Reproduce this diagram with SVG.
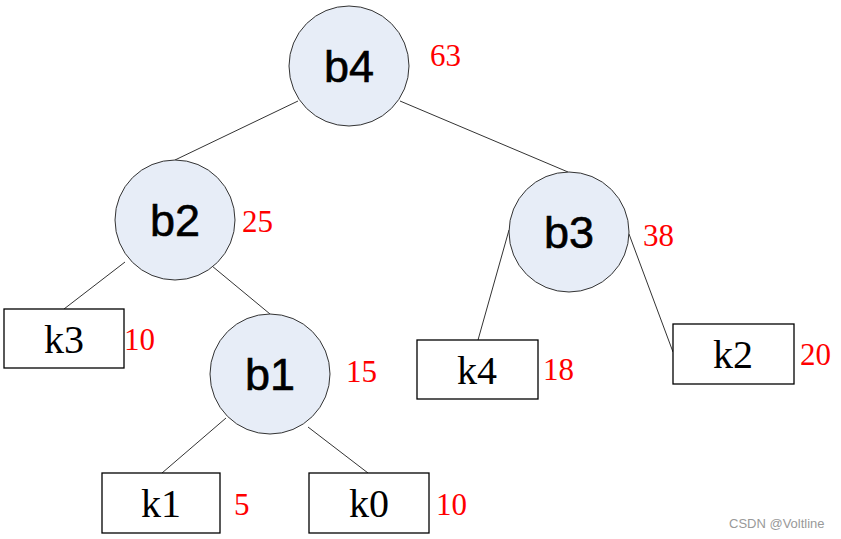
<svg xmlns="http://www.w3.org/2000/svg" width="841" height="539" viewBox="0 0 841 539">
<style>
.c{fill:#e7edf7;stroke:#333;stroke-width:1}
.b{fill:#fff;stroke:#000;stroke-width:1.3}
.e{stroke:#333;stroke-width:1;fill:none}
.nl{font-family:"Liberation Sans",Arial,sans-serif;font-size:45px;fill:#000;text-anchor:middle;stroke:#000;stroke-width:0.6}
.kl{font-family:"Liberation Serif","Times New Roman",serif;font-size:40px;fill:#000;text-anchor:middle}
.w{font-family:"Liberation Serif","Times New Roman",serif;font-size:31px;fill:#ff0000}
.wm{font-family:"Liberation Sans",Arial,sans-serif;font-size:13px;fill:#999}
</style>
<rect width="841" height="539" fill="#fff"/>
<g id="connectors">
<line class="e" x1="298" y1="101" x2="175" y2="160"/>
<line class="e" x1="400" y1="101" x2="568" y2="172"/>
<line class="e" x1="125" y1="262" x2="64" y2="309"/>
<line class="e" x1="212" y1="266" x2="270" y2="314"/>
<line class="e" x1="509" y1="230" x2="478" y2="340"/>
<line class="e" x1="629" y1="234" x2="673" y2="352"/>
<line class="e" x1="226" y1="418" x2="162" y2="473"/>
<line class="e" x1="308" y1="427" x2="368" y2="473"/>
</g>
<g id="b4"><circle class="c" cx="349" cy="66" r="60"/><text class="nl" x="349" y="82">b4</text><text class="w" x="430" y="66">63</text></g>
<g id="b2"><circle class="c" cx="175" cy="220" r="60"/><text class="nl" x="175" y="236">b2</text><text class="w" x="242" y="232">25</text></g>
<g id="b3"><circle class="c" cx="569" cy="232" r="60"/><text class="nl" x="569" y="248">b3</text><text class="w" x="643" y="246">38</text></g>
<g id="b1"><circle class="c" cx="270" cy="374" r="60"/><text class="nl" x="270" y="390">b1</text><text class="w" x="346" y="382">15</text></g>
<g id="k3"><rect class="b" x="4" y="309" width="120" height="59"/><text class="kl" x="64" y="353">k3</text><text class="w" x="124" y="350">10</text></g>
<g id="k1"><rect class="b" x="102" y="473" width="118" height="60"/><text class="kl" x="161" y="517">k1</text><text class="w" x="234" y="515">5</text></g>
<g id="k0"><rect class="b" x="309" y="473" width="120" height="60"/><text class="kl" x="369" y="517">k0</text><text class="w" x="436" y="515">10</text></g>
<g id="k4"><rect class="b" x="417" y="340" width="121" height="59"/><text class="kl" x="477" y="384">k4</text><text class="w" x="543" y="380">18</text></g>
<g id="k2"><rect class="b" x="673" y="324" width="121" height="60"/><text class="kl" x="733" y="368">k2</text><text class="w" x="800" y="365">20</text></g>
<text class="wm" x="729" y="528">CSDN @Voltline</text>
</svg>
